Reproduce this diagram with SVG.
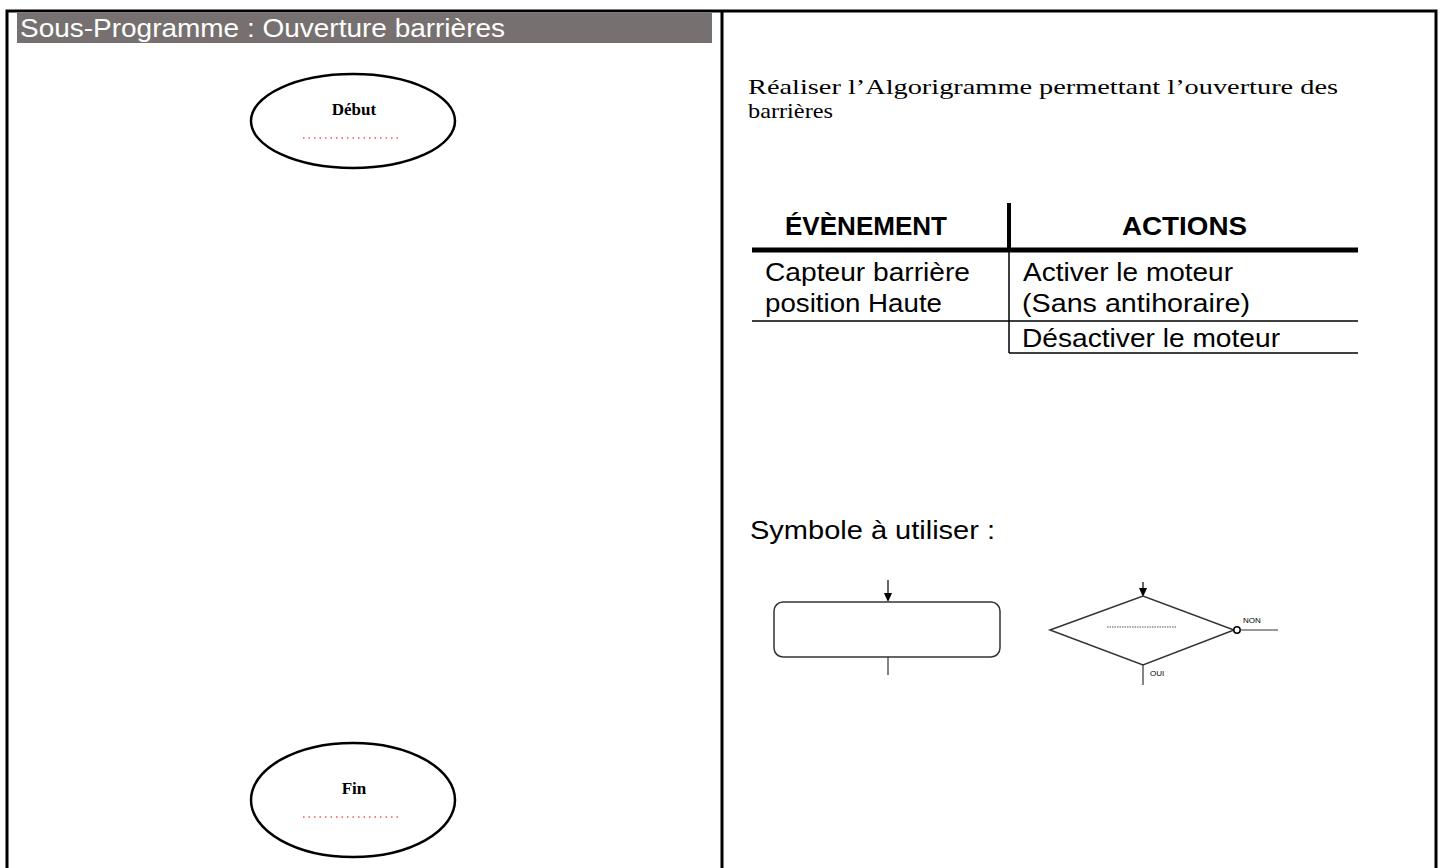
<svg xmlns="http://www.w3.org/2000/svg" width="1443" height="868" viewBox="0 0 1443 868">
<style>
.frame{stroke:#000;stroke-width:3;fill:none}
.term{fill:#fff;stroke:#000;stroke-width:2.5}
.termtxt{font-family:"Liberation Serif",serif;font-weight:bold;font-size:17px;fill:#000;text-anchor:middle}
.reddots{stroke:#e00;stroke-width:1.2;stroke-dasharray:1.5 4}
.sans{font-family:"Liberation Sans",Arial,sans-serif;fill:#000}
.serif{font-family:"Liberation Serif",serif;fill:#000}
.cell{font-family:"Liberation Sans",Arial,sans-serif;fill:#000;font-size:25px}
.sym{stroke:#333;stroke-width:1.5;fill:#fff}
.arrowhead{fill:#000}
</style>
<rect width="1443" height="868" fill="#fff"/>
<g id="frame">
<path class="frame" d="M7,868 V11 H1436 V868"/>
<line class="frame" x1="722" y1="11" x2="722" y2="868"/>
</g>
<g id="header">
<rect x="17" y="13" width="695" height="30" fill="#767170"/>
<text x="20" y="37" class="sans" style="fill:#fff;font-size:25px" textLength="485" lengthAdjust="spacingAndGlyphs">Sous-Programme : Ouverture barrières</text>
</g>
<g id="debut">
<ellipse class="term" cx="353" cy="121" rx="102" ry="47"/>
<text x="354" y="115" class="termtxt">Début</text>
<line class="reddots" x1="303" y1="138" x2="400" y2="138"/>
</g>
<g id="fin">
<ellipse class="term" cx="353" cy="800" rx="102" ry="57"/>
<text x="354" y="794" class="termtxt">Fin</text>
<line class="reddots" x1="303" y1="817" x2="400" y2="817"/>
</g>
<g id="connectors"></g>
<g id="consigne">
<text x="748" y="94" class="serif" style="font-size:21px" textLength="590" lengthAdjust="spacingAndGlyphs">Réaliser l’Algorigramme permettant l’ouverture des</text>
<text x="748" y="118" class="serif" style="font-size:21px" textLength="85" lengthAdjust="spacingAndGlyphs">barrières</text>
</g>
<g id="table">
<text x="785" y="235" class="cell" style="font-weight:bold;font-size:26px" textLength="162" lengthAdjust="spacingAndGlyphs">ÉVÈNEMENT</text>
<text x="1122" y="235" class="cell" style="font-weight:bold;font-size:26px" textLength="125" lengthAdjust="spacingAndGlyphs">ACTIONS</text>
<line x1="1009" y1="203" x2="1009" y2="250" stroke="#000" stroke-width="4"/>
<line x1="752" y1="250" x2="1358" y2="250" stroke="#000" stroke-width="5"/>
<line x1="1009" y1="250" x2="1009" y2="353" stroke="#000" stroke-width="1.5"/>
<line x1="752" y1="321" x2="1358" y2="321" stroke="#000" stroke-width="1.5"/>
<line x1="1009" y1="353" x2="1358" y2="353" stroke="#000" stroke-width="1.5"/>
<text x="765" y="281" class="cell" textLength="205" lengthAdjust="spacingAndGlyphs">Capteur barrière</text>
<text x="765" y="312" class="cell" textLength="177" lengthAdjust="spacingAndGlyphs">position Haute</text>
<text x="1023" y="281" class="cell" textLength="210" lengthAdjust="spacingAndGlyphs">Activer le moteur</text>
<text x="1022" y="312" class="cell" textLength="228" lengthAdjust="spacingAndGlyphs">(Sans antihoraire)</text>
<text x="1022" y="347" class="cell" textLength="258" lengthAdjust="spacingAndGlyphs">Désactiver le moteur</text>
</g>
<g id="symboles">
<text x="750" y="539" class="cell" textLength="245" lengthAdjust="spacingAndGlyphs">Symbole à utiliser :</text>
<line x1="888" y1="580" x2="888" y2="595" stroke="#000" stroke-width="1.2"/>
<polygon class="arrowhead" points="884,593 892,593 888,602"/>
<rect x="774" y="602" width="226" height="55" rx="9" class="sym"/>
<line x1="888" y1="657" x2="888" y2="675" stroke="#333" stroke-width="1.2"/>
<line x1="1143" y1="582" x2="1143" y2="590" stroke="#000" stroke-width="1.2"/>
<polygon class="arrowhead" points="1139,588 1147,588 1143,597"/>
<polygon points="1050,630 1143,596 1234,630 1143,665" class="sym"/>
<line x1="1107" y1="627" x2="1177" y2="627" stroke="#555" stroke-width="1" stroke-dasharray="1.5 1"/>
<circle cx="1237" cy="630" r="3.2" fill="#fff" stroke="#000" stroke-width="1.5"/>
<line x1="1240" y1="630" x2="1278" y2="630" stroke="#333" stroke-width="1.2"/>
<line x1="1143" y1="665" x2="1143" y2="685" stroke="#333" stroke-width="1.2"/>
<text x="1243" y="623" class="sans" style="font-size:8px">NON</text>
<text x="1150" y="676" class="sans" style="font-size:8px">OUI</text>
</g>
</svg>
